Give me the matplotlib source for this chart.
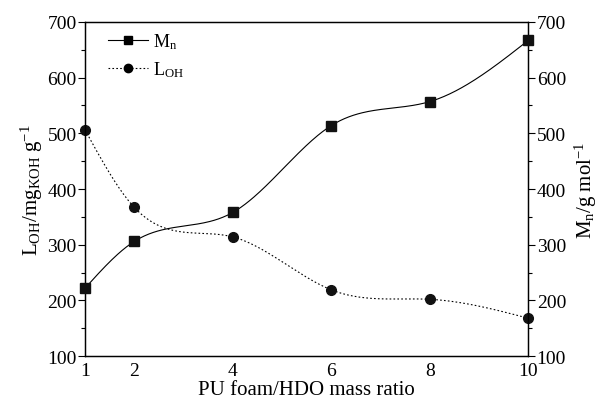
import matplotlib
matplotlib.use("Agg")
import matplotlib.pyplot as plt
from matplotlib.ticker import MultipleLocator
import numpy as np

plt.rcParams["font.family"] = ["Liberation Serif", "DejaVu Serif"]
plt.rcParams["mathtext.fontset"] = "custom"
plt.rcParams["mathtext.rm"] = "Liberation Serif"
plt.rcParams["mathtext.it"] = "Liberation Serif:italic"

# data
ratio = [1, 2, 4, 6, 8, 10]
mn = [222, 306, 358, 514, 557, 667]      # g/mol, right axis
loh = [506, 367, 314, 219, 202, 168]     # mg KOH/g, left axis


def natural_spline(x, y, n=300):
    # natural cubic spline through the points, just for the smooth line
    x = np.asarray(x, float)
    y = np.asarray(y, float)
    k = len(x)
    h = np.diff(x)
    A = np.zeros((k, k))
    b = np.zeros(k)
    A[0, 0] = A[-1, -1] = 1
    for i in range(1, k - 1):
        A[i, i - 1] = h[i - 1]
        A[i, i] = 2 * (h[i - 1] + h[i])
        A[i, i + 1] = h[i]
        b[i] = 6 * ((y[i + 1] - y[i]) / h[i] - (y[i] - y[i - 1]) / h[i - 1])
    M = np.linalg.solve(A, b)
    xs = np.linspace(x[0], x[-1], n)
    idx = np.clip(np.searchsorted(x, xs) - 1, 0, k - 2)
    x0, x1 = x[idx], x[idx + 1]
    hh = x1 - x0
    t0, t1 = x1 - xs, xs - x0
    ys = (M[idx] * t0**3 + M[idx + 1] * t1**3) / (6 * hh) \
        + (y[idx] / hh - M[idx] * hh / 6) * t0 \
        + (y[idx + 1] / hh - M[idx + 1] * hh / 6) * t1
    return xs, ys


fig, ax = plt.subplots(figsize=(5.99, 4.10), dpi=100)
fig.subplots_adjust(left=0.142, right=0.882, top=0.944, bottom=0.129)
ax2 = ax.twinx()

xs, ys = natural_spline(ratio, loh)
ax.plot(xs, ys, color="black", lw=0.8, ls=(0, (1.5, 2)))
ax.plot(ratio, loh, "o", color="#111111", ms=7, clip_on=False, zorder=5)

xs, ys = natural_spline(ratio, mn)
ax2.plot(xs, ys, color="black", lw=0.8)
ax2.plot(ratio, mn, "s", color="#111111", ms=6.5, clip_on=False, zorder=5)

for a in (ax, ax2):
    a.set_xlim(1, 10)
    a.set_ylim(100, 700)
    a.yaxis.set_major_locator(MultipleLocator(100))
    a.yaxis.set_minor_locator(MultipleLocator(50))
    a.tick_params(axis="y", which="major", direction="out", length=5,
                  width=0.8, labelsize=14, pad=1)
    a.tick_params(axis="y", which="minor", direction="out", length=3, width=0.8)
    for s in a.spines.values():
        s.set_linewidth(0.9)

ax.set_xticks(ratio)
ax.tick_params(axis="x", length=0, labelsize=14, pad=4)

ax.set_xlabel("PU foam/HDO mass ratio", fontsize=15, labelpad=1)
ax.set_ylabel(r"$\mathrm{L_{OH}/mg_{KOH}\ g^{-1}}$", fontsize=15, labelpad=2)
ax2.set_ylabel(r"$\mathrm{M_n/g\ mol^{-1}}$", fontsize=15, rotation=90,
               labelpad=5)

h_mn, = ax.plot([], [], "-s", color="black", lw=0.8, ms=5.5)
h_oh, = ax.plot([], [], "o", color="black", ls=(0, (1.5, 2)), lw=0.8, ms=6)
ax.legend([h_mn, h_oh], [r"$\mathrm{M_n}$", r"$\mathrm{L_{OH}}$"],
          loc="upper left", bbox_to_anchor=(0.015, 1.02), frameon=False,
          fontsize=13, handlelength=2.2, handletextpad=0.3, labelspacing=0.45)

fig.savefig("out.png", dpi=100)
